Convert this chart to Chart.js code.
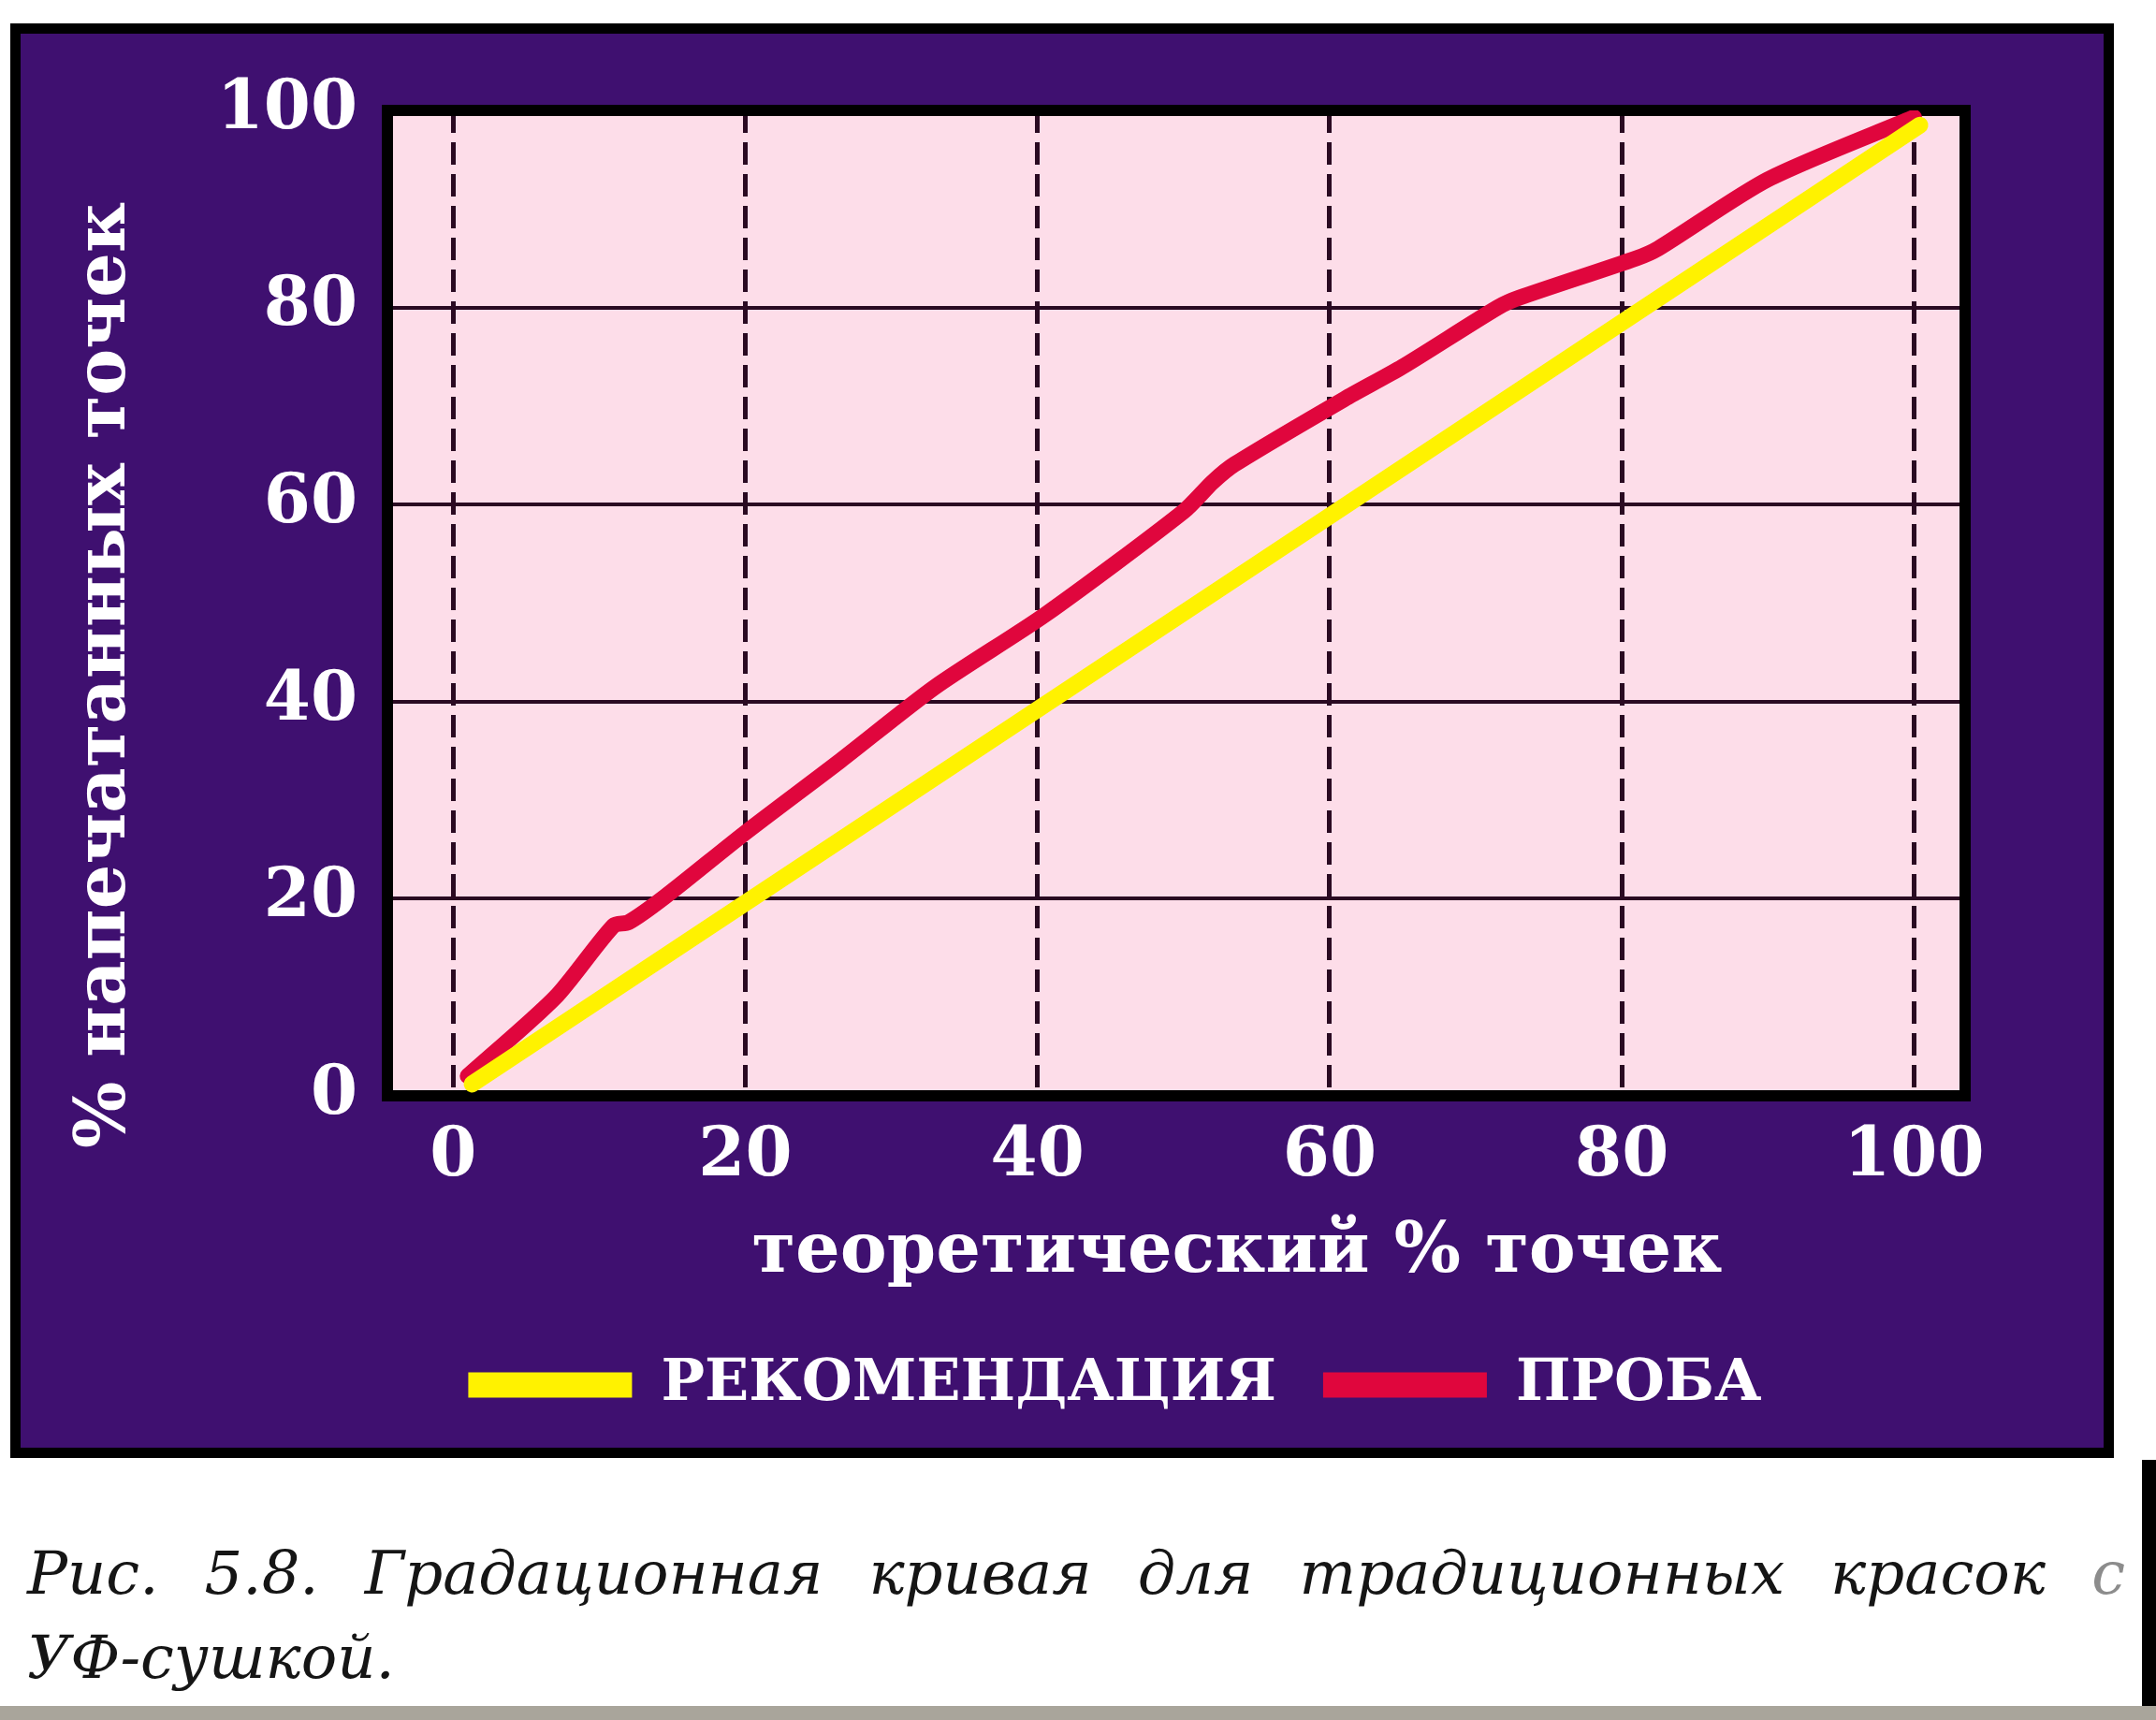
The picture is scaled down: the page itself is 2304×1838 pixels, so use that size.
<!DOCTYPE html>
<html lang="ru">
<head>
<meta charset="UTF-8" />
<title>Градационная кривая</title>
<script src="https://cdn.jsdelivr.net/npm/chart.js"></script>
<style>
  html, body { margin: 0; padding: 0; background: #fff; }
  body { width: 2304px; height: 1838px; position: relative; overflow: hidden; }
  .painel { position: absolute; left: 11px; top: 25px; width: 2226px; height: 1511px; background: #3f1070; border: 11px solid #000; }
  #grafico { position: absolute; left: 0; top: 0; }
  .legenda { position: absolute; left: 29px; font-family: 'DejaVu Serif', serif; font-style: italic; font-size: 64px; line-height: 90px; color: #151515; white-space: nowrap; }
  .linha1 { top: 1636px; width: 2242px; text-align: justify; text-align-last: justify; white-space: normal; }
  .linha2 { top: 1726px; }
  .claro { color: #8c8c8c; }
  .faixa { position: absolute; left: 0; top: 1823px; width: 2304px; height: 15px; background: #a9a59b; }
  .borda { position: absolute; left: 2289px; top: 1560px; width: 15px; height: 263px; background: #000; }
</style>
</head>
<body>
<div class="painel"></div>
<canvas id="grafico" width="2304" height="1838"></canvas>
<div class="legenda linha1">Рис. 5.8. Градационная кривая для традиционных красок <span class="claro">с</span></div>
<div class="legenda linha2">УФ-сушкой.</div>
<div class="borda"></div>
<div class="faixa"></div>

<script>
  // valores
  const ticksX = [0, 20, 40, 60, 80, 100];
  const ticksY = [0, 20, 40, 60, 80, 100];
  const nomes = ['РЕКОМЕНДАЦИЯ', 'ПРОБА'];
  const tituloX = 'теоретический % точек';
  const tituloY = '% напечатанных точек';

  const recomendacaoX = [1.3, 100.4];
  const recomendacaoY = [1.2, 98.5];

  const provaX = [1, 7, 11, 12, 14.5, 20, 26.5, 33, 40.5, 50, 52, 53.5, 61, 65, 71.5, 73, 81, 82.5, 90, 100];
  const provaY = [2, 10, 17.3, 17.6, 20.2, 26.7, 34, 41.5, 48.8, 59.3, 62.3, 64.1, 70.7, 74, 80, 81, 85, 86, 93, 99.3];

  const fonte = "'DejaVu Serif', serif";
  const rosa = '#fddde9';
  const amarelo = '#fff200';
  const vermelho = '#e0063d';
  const grade = '#2a0a22';

  const pontos = (xs, ys) => xs.map((x, i) => ({ x: x, y: ys[i] }));

  // fundo rosa, moldura preta e títulos dos eixos
  const moldura = {
    id: 'moldura',
    beforeDraw(chart) {
      const { ctx, chartArea: a } = chart;
      ctx.save();
      ctx.fillStyle = rosa;
      ctx.fillRect(a.left, a.top, a.width, a.height);
      ctx.restore();
    },
    beforeDatasetsDraw(chart) {
      const { ctx, chartArea: a } = chart;
      ctx.save();
      ctx.lineWidth = 12;
      ctx.strokeStyle = '#000';
      ctx.strokeRect(a.left, a.top, a.width, a.height);
      ctx.restore();
    },
    afterDraw(chart) {
      const { ctx, chartArea: a } = chart;
      ctx.save();
      ctx.fillStyle = '#fff';
      ctx.font = 'bold 75px ' + fonte;
      ctx.textAlign = 'center';
      ctx.textBaseline = 'middle';
      ctx.fillText(tituloX, (a.left + a.right) / 2 + 65, a.bottom + 169);
      ctx.translate(a.left - 300, (a.top + a.bottom) / 2 + 77);
      ctx.rotate(-Math.PI / 2);
      ctx.fillText(tituloY, 0, 0);
      ctx.restore();
    },
    afterLayout(chart) {
      // legenda um pouco à direita, como no original
      chart.legend.left += 107;
      chart.legend.right += 107;
    }
  };

  const grafico = new Chart(document.getElementById('grafico'), {
    type: 'line',
    data: {
      datasets: [{
        label: nomes[0],
        data: pontos(recomendacaoX, recomendacaoY),
        borderColor: amarelo,
        backgroundColor: amarelo,
        borderWidth: 18,
        borderCapStyle: 'round',
        pointRadius: 0,
        tension: 0
      }, {
        label: nomes[1],
        data: pontos(provaX, provaY),
        borderColor: vermelho,
        backgroundColor: vermelho,
        borderWidth: 17,
        borderCapStyle: 'round',
        borderJoinStyle: 'round',
        pointRadius: 0,
        tension: 0.25
      }]
    },
    options: {
      responsive: false,
      devicePixelRatio: 1,
      animation: false,
      layout: { padding: { left: 69, top: 118, right: 204, bottom: 317 } },
      scales: {
        x: {
          type: 'linear',
          min: -4.5,
          max: 103.5,
          afterBuildTicks: s => { s.ticks = ticksX.map(v => ({ value: v })); },
          afterFit: s => { s.height = 228; },
          grid: { color: grade, lineWidth: 5, drawTicks: false },
          border: { display: false, dash: [24, 10] },
          ticks: { color: '#fff', padding: 23, font: { family: fonte, size: 72, weight: 'bold' } }
        },
        y: {
          min: 0,
          max: 100,
          afterBuildTicks: s => { s.ticks = ticksY.map(v => ({ value: v })); },
          afterFit: s => { s.width = 345; },
          grid: { color: grade, lineWidth: 4, drawTicks: false },
          border: { display: false },
          ticks: { color: '#fff', padding: 32, font: { family: fonte, size: 72, weight: 'bold' } }
        }
      },
      plugins: {
        tooltip: { enabled: false },
        legend: {
          position: 'bottom',
          labels: {
            color: '#fff',
            boxWidth: 175,
            boxHeight: 27,
            padding: 50,
            font: { family: fonte, size: 62, weight: 'bold' },
            generateLabels: chart => chart.data.datasets.map((ds, i) => ({
              text: ds.label,
              fillStyle: ds.borderColor,
              strokeStyle: ds.borderColor,
              lineWidth: 0,
              fontColor: '#fff',
              hidden: false,
              datasetIndex: i
            }))
          }
        }
      }
    },
    plugins: [moldura]
  });
</script>
</body>
</html>
